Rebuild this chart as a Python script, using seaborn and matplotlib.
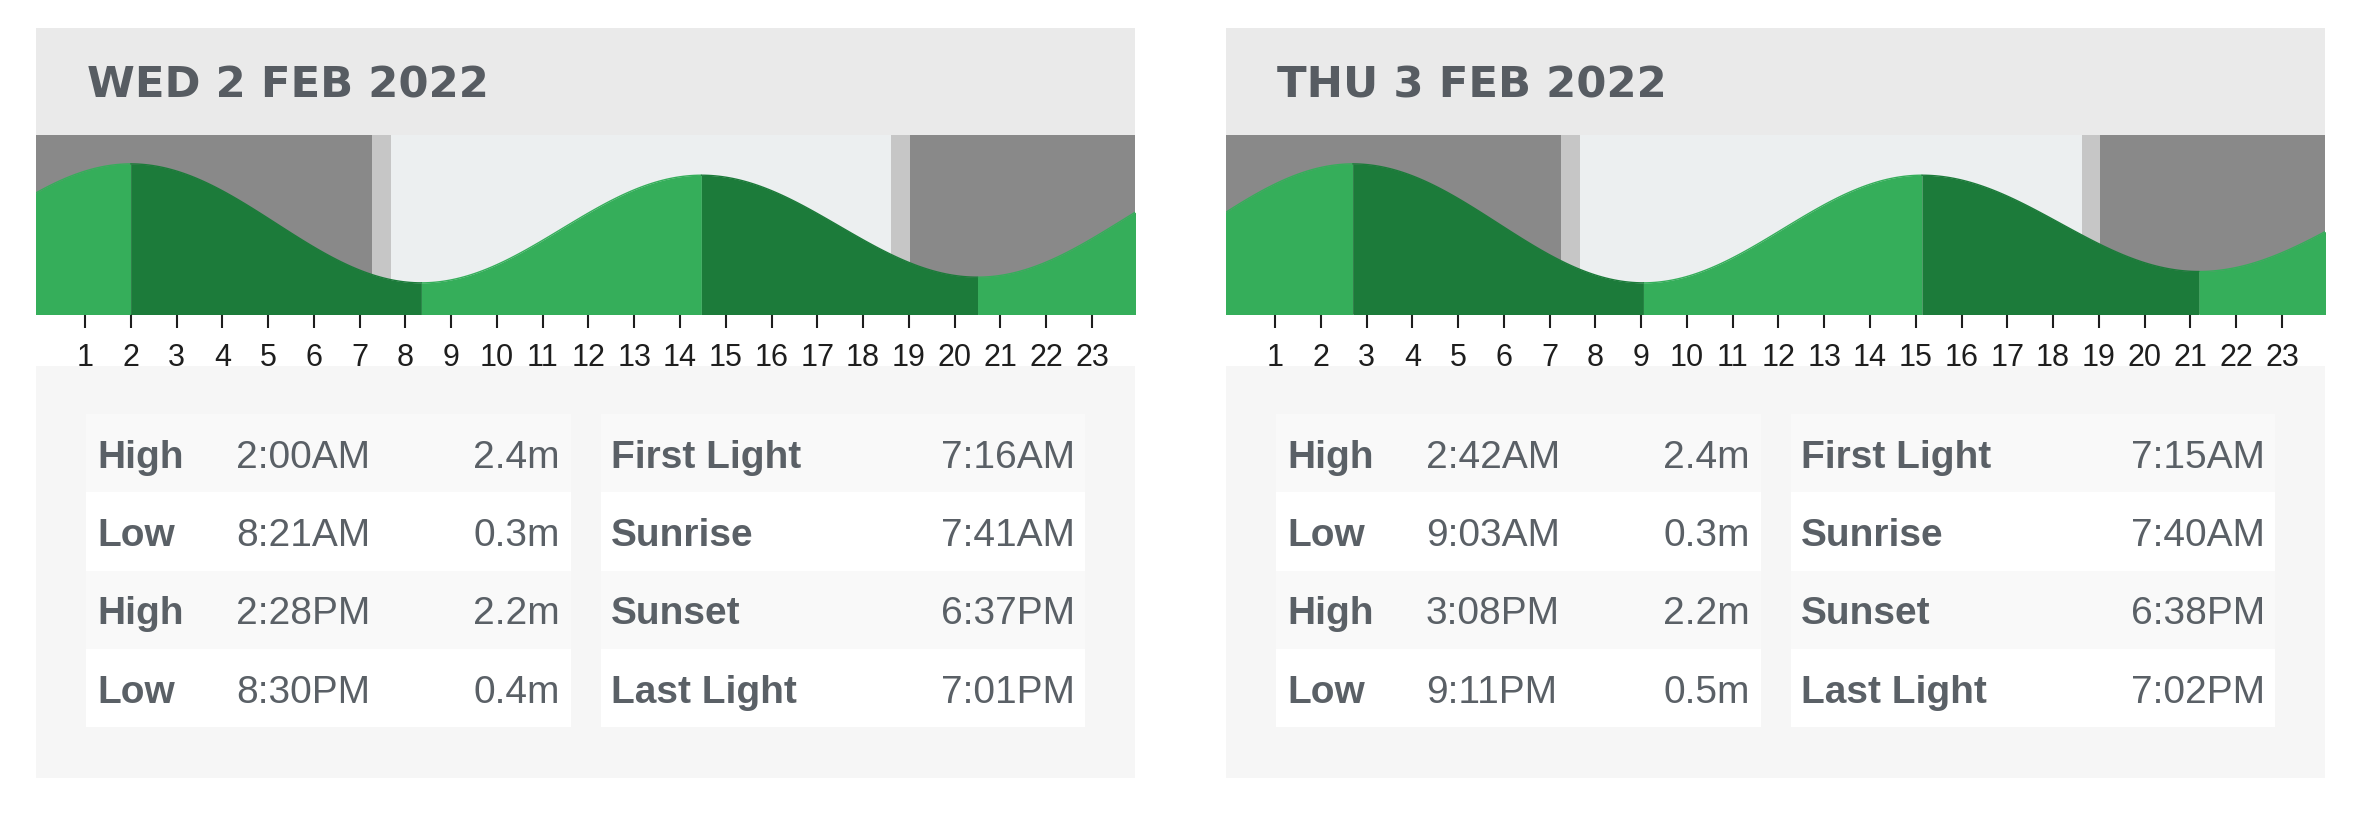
import numpy as np
import pandas as pd
import matplotlib
matplotlib.use('Agg')
import matplotlib.pyplot as plt
from matplotlib.patches import Rectangle
import seaborn as sns

# ----------------------------------------------------------------
# Data read off the two tide cards
# ----------------------------------------------------------------
DAY_TITLES = ['WED 2 FEB 2022', 'THU 3 FEB 2022']
TIDE_KINDS = ['High', 'Low', 'High', 'Low']
TIDE_TIMES = [['2:00AM', '8:21AM', '2:28PM', '8:30PM'],
              ['2:42AM', '9:03AM', '3:08PM', '9:11PM']]
TIDE_HEIGHTS = [[2.4, 0.3, 2.2, 0.4],
                [2.4, 0.3, 2.2, 0.5]]
SUN_EVENTS = ['First Light', 'Sunrise', 'Sunset', 'Last Light']
SUN_TIMES = [['7:16AM', '7:41AM', '6:37PM', '7:01PM'],
             ['7:15AM', '7:40AM', '6:38PM', '7:02PM']]
# tide turns just outside the shown day (hour, metres), estimated from the curve ends
TURN_BEFORE = [(-4.3, 0.3), (-3.6, 0.3)]
TURN_AFTER = [(26.8, 2.4), (27.6, 2.3)]
HOUR_TICKS = list(range(1, 24))

# colours
NIGHT = '#898989'
TWILIGHT = '#c6c6c6'
DAY = '#eceff0'
RISING = '#35ae5a'
FALLING = '#1c7b3a'
HEAD_BG = '#eaeaea'
TABLE_BG = '#f6f6f6'
ROW_ODD = '#f9f9f9'
TEXT = '#5a6066'

# layout in pixels
W, H = 2355, 816
PANEL_X = [36, 1226]
PANEL_W = 1099
HEAD_TOP, CHART_TOP, CHART_BOT, TABLE_TOP, TABLE_BOT = 28, 135, 314, 366, 778
XLIM = (-0.07, 23.94)
YLIM = (-0.25, 2.91)


def to_hours(s):
    hm, ampm = s[:-2], s[-2:]
    h, m = [int(v) for v in hm.split(':')]
    h = h % 12 + (12 if ampm == 'PM' else 0)
    return h + m / 60.0


def fig_rect(x, y_top, w, h):
    return [x / W, 1 - (y_top + h) / H, w / W, h / H]


def tide_frame(turns):
    # cosine easing between consecutive tide turns, as tide charts draw them
    rows = []
    for k in range(len(turns) - 1):
        (t0, h0), (t1, h1) = turns[k], turns[k + 1]
        t = np.linspace(t0, t1, 80)
        hh = h0 + (h1 - h0) * (1 - np.cos(np.pi * (t - t0) / (t1 - t0))) / 2
        phase = 'rising' if h1 > h0 else 'falling'
        for a, b in zip(t, hh):
            rows.append((a, b, phase, k))
    return pd.DataFrame(rows, columns=['hour', 'height', 'phase', 'segment'])


sns.set_theme(style='white')
plt.rcParams['font.family'] = ['Liberation Sans', 'DejaVu Sans']

fig = plt.figure(figsize=(W / 100, H / 100), dpi=100)
fig.patch.set_facecolor('white')

for p in range(2):
    x0 = PANEL_X[p]

    # header band + title
    fig.add_artist(Rectangle((x0 / W, 1 - CHART_TOP / H), PANEL_W / W,
                             (CHART_TOP - HEAD_TOP) / H, transform=fig.transFigure,
                             facecolor=HEAD_BG, edgecolor='none', zorder=-1))
    fig.text((x0 + 51) / W, 1 - 97 / H, DAY_TITLES[p], fontsize=31.2,
             fontweight='bold', color='#575c62', va='baseline', ha='left',
             family=['DejaVu Sans'])

    # tide chart
    ax = fig.add_axes(fig_rect(x0, CHART_TOP, PANEL_W, CHART_BOT - CHART_TOP))
    ax.set_zorder(1)
    tide_hours = [to_hours(s) for s in TIDE_TIMES[p]]
    sun_hours = [to_hours(s) for s in SUN_TIMES[p]]
    first, rise, sset, last = sun_hours
    ax.axvspan(XLIM[0], first, color=NIGHT, lw=0)
    ax.axvspan(first, rise, color=TWILIGHT, lw=0)
    ax.axvspan(rise, sset, color=DAY, lw=0)
    ax.axvspan(sset, last, color=TWILIGHT, lw=0)
    ax.axvspan(last, XLIM[1], color=NIGHT, lw=0)

    turns = [TURN_BEFORE[p]] + list(zip(tide_hours, TIDE_HEIGHTS[p])) + [TURN_AFTER[p]]
    df = tide_frame(turns)
    for seg, sub in df.groupby('segment'):
        col = RISING if sub['phase'].iloc[0] == 'rising' else FALLING
        ax.fill_between(sub['hour'], -1, sub['height'], color=col, lw=0)
    sns.lineplot(data=df, x='hour', y='height', hue='phase', units='segment',
                 estimator=None, sort=False, palette={'rising': RISING, 'falling': FALLING},
                 linewidth=1, legend=False, ax=ax)

    ax.set_xlim(*XLIM)
    ax.set_ylim(*YLIM)
    for s in ax.spines.values():
        s.set_visible(False)
    ax.set_yticks([])
    ax.set_xticks(HOUR_TICKS)
    ax.set_xticklabels([str(h) for h in HOUR_TICKS])
    ax.tick_params(axis='x', direction='out', length=10, width=1.5, color='#1e1e1e',
                   pad=11, labelsize=22, labelcolor='#1e1e1e', bottom=True)
    ax.set_xlabel('')
    ax.set_ylabel('')

    # table of tides and sun times
    tb = fig.add_axes(fig_rect(x0, TABLE_TOP, PANEL_W, TABLE_BOT - TABLE_TOP))
    tb.set_zorder(2)
    tb.set_facecolor(TABLE_BG)
    tb.set_xlim(0, PANEL_W)
    tb.set_ylim(TABLE_BOT - TABLE_TOP, 0)
    tb.set_xticks([])
    tb.set_yticks([])
    for s in tb.spines.values():
        s.set_visible(False)

    row_h = 78.25
    for i in range(4):
        top = 48 + i * row_h
        rc = ROW_ODD if i % 2 == 0 else 'white'
        tb.add_patch(Rectangle((50, top), 485, row_h, facecolor=rc, edgecolor='none'))
        tb.add_patch(Rectangle((565, top), 484, row_h, facecolor=rc, edgecolor='none'))
        base = top + 54
        tb.text(61, base, TIDE_KINDS[i], fontsize=28, fontweight='bold', color=TEXT, va='baseline')
        tb.text(200, base, TIDE_TIMES[p][i], fontsize=28, color=TEXT, va='baseline')
        tb.text(524, base, f'{TIDE_HEIGHTS[p][i]:.1f}m', fontsize=28, color=TEXT,
                va='baseline', ha='right')
        tb.text(575, base, SUN_EVENTS[i], fontsize=28, fontweight='bold', color=TEXT, va='baseline')
        tb.text(1039, base, SUN_TIMES[p][i], fontsize=28, color=TEXT, va='baseline', ha='right')

fig.savefig('out.png', dpi=100)
